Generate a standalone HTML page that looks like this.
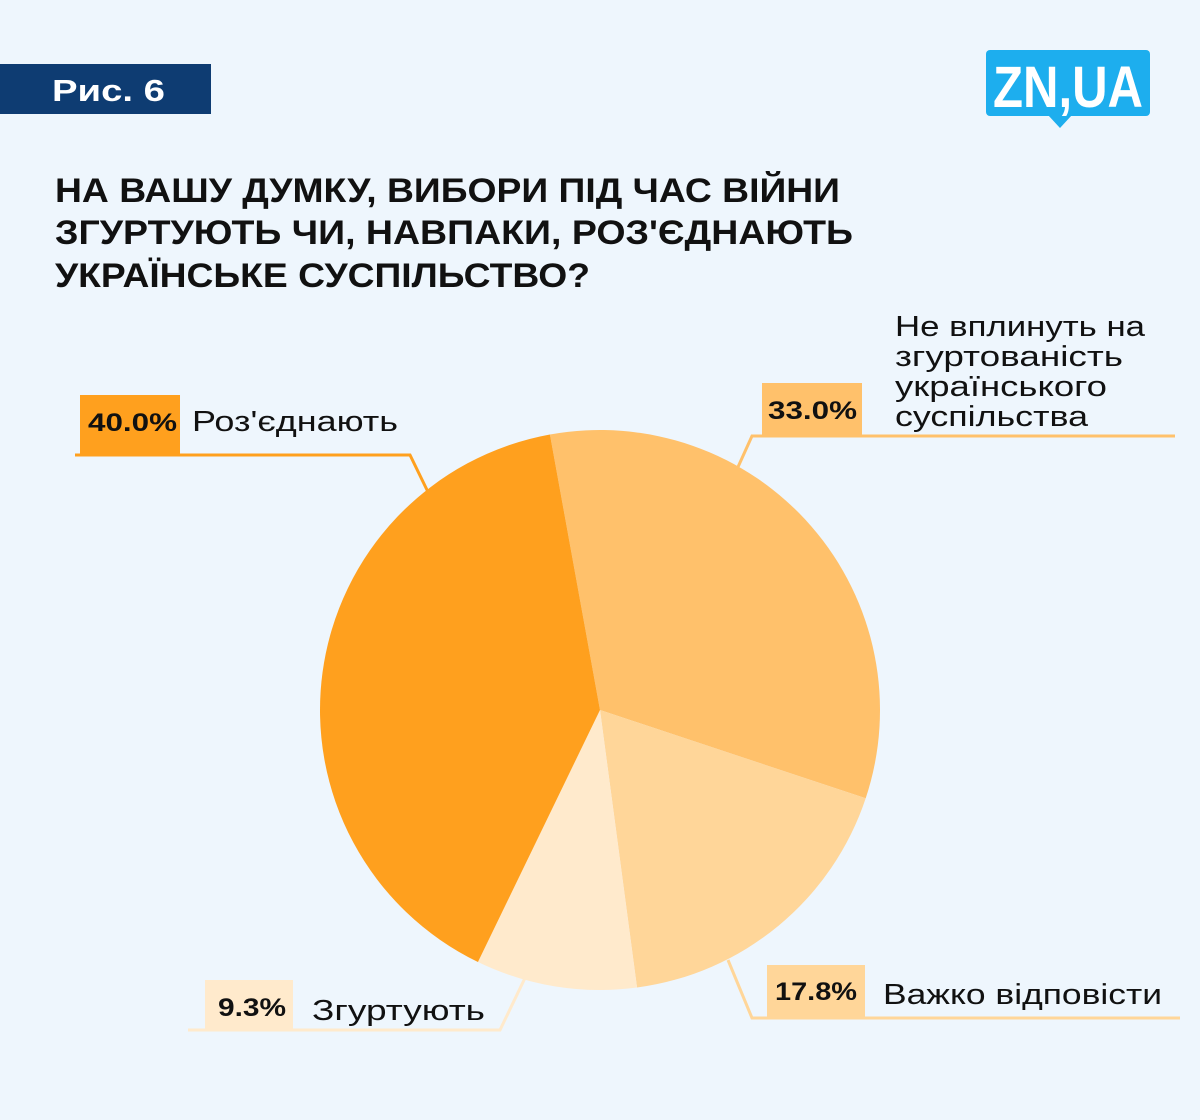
<!DOCTYPE html>
<html><head><meta charset="utf-8"><style>
body{margin:0;background:#EEF6FD;}
svg{display:block;font-family:"Liberation Sans",sans-serif;}
</style></head><body>
<svg width="1200" height="1120" viewBox="0 0 1200 1120">
<rect x="0" y="0" width="1200" height="1120" fill="#EEF6FD"/>
<rect x="0" y="64" width="211" height="50" fill="#0E3C72"/>
<text x="52" y="101" font-size="31" font-weight="bold" fill="#fff" textLength="113" lengthAdjust="spacingAndGlyphs">Рис. 6</text>
<g>
<rect x="986" y="50" width="164" height="66" rx="4" fill="#1DAEEE"/>
<polygon points="1048,115 1072,115 1060,128" fill="#1DAEEE"/>
<text x="1068" y="107" font-size="58" font-weight="bold" fill="#fff" text-anchor="middle" textLength="150" lengthAdjust="spacingAndGlyphs">ZN,UA</text>
</g>
<g font-size="34" font-weight="bold" fill="#111">
<text x="55" y="202" textLength="785" lengthAdjust="spacingAndGlyphs">НА ВАШУ ДУМКУ, ВИБОРИ ПІД ЧАС ВІЙНИ</text>
<text x="55" y="244" textLength="798" lengthAdjust="spacingAndGlyphs">ЗГУРТУЮТЬ ЧИ, НАВПАКИ, РОЗ'ЄДНАЮТЬ</text>
<text x="55" y="287" textLength="535" lengthAdjust="spacingAndGlyphs">УКРАЇНСЬКЕ СУСПІЛЬСТВО?</text>
</g>
<g id="pie"></g>
<g>
<g>
<rect x="80" y="395" width="100" height="60" fill="#FFA01E"/>
<text x="88" y="431" font-size="25" font-weight="bold" fill="#111" textLength="89" lengthAdjust="spacingAndGlyphs">40.0%</text>
<text x="192" y="431" font-size="29" fill="#111" textLength="206" lengthAdjust="spacingAndGlyphs">Роз'єднають</text>
<polyline points="75,455 410,455 428,492" fill="none" stroke="#FFA01E" stroke-width="3"/>
</g>
<g>
<rect x="762" y="383" width="100" height="52" fill="#FFC16B"/>
<text x="768" y="419" font-size="25" font-weight="bold" fill="#111" textLength="89" lengthAdjust="spacingAndGlyphs">33.0%</text>
<g font-size="29" fill="#111">
<text x="895" y="336" textLength="250" lengthAdjust="spacingAndGlyphs">Не вплинуть на</text>
<text x="895" y="366" textLength="228" lengthAdjust="spacingAndGlyphs">згуртованість</text>
<text x="895" y="396" textLength="212" lengthAdjust="spacingAndGlyphs">українського</text>
<text x="895" y="426" textLength="193" lengthAdjust="spacingAndGlyphs">суспільства</text>
</g>
<polyline points="1175,436 752,436 738,467" fill="none" stroke="#FFC16B" stroke-width="3"/>
</g>
<g>
<rect x="767" y="965" width="98" height="52" fill="#FFD699"/>
<text x="775" y="1000" font-size="25" font-weight="bold" fill="#111" textLength="82" lengthAdjust="spacingAndGlyphs">17.8%</text>
<text x="883" y="1004" font-size="29" fill="#111" textLength="279" lengthAdjust="spacingAndGlyphs">Важко відповісти</text>
<polyline points="1180,1018 752,1018 728,960" fill="none" stroke="#FFD699" stroke-width="3"/>
</g>
<g>
<rect x="205" y="980" width="88" height="50" fill="#FFEACC"/>
<text x="218" y="1016" font-size="25" font-weight="bold" fill="#111" textLength="68" lengthAdjust="spacingAndGlyphs">9.3%</text>
<text x="312" y="1020" font-size="29" fill="#111" textLength="173" lengthAdjust="spacingAndGlyphs">Згуртують</text>
<polyline points="188,1030 500,1030 525,978" fill="none" stroke="#FFEACC" stroke-width="3"/>
</g>
</g>
</svg>
<script>
const categories = ["Не вплинуть", "Важко відповісти", "Згуртують", "Роз'єднають"];
const values = [33.0, 17.8, 9.3, 40.0];
const colors = ["#FFC16B", "#FFD699", "#FFEACC", "#FFA01E"];
const names = ["slice-no-effect", "slice-hard-to-say", "slice-unite", "slice-divide"];
const cx = 600, cy = 710, r = 280, startDeg = -10.3;
const g = document.getElementById('pie');
const total = values.reduce((a, b) => a + b, 0);
let a = startDeg;
function pt(d){const t=d*Math.PI/180;return [cx+r*Math.sin(t), cy-r*Math.cos(t)];}
values.forEach((v, i) => {
  const sweep = v / total * 360;
  const p1 = pt(a), p2 = pt(a + sweep);
  const path = document.createElementNS('http://www.w3.org/2000/svg', 'path');
  path.setAttribute('d', `M${cx},${cy} L${p1[0]},${p1[1]} A${r},${r} 0 ${sweep>180?1:0} 1 ${p2[0]},${p2[1]} Z`);
  path.setAttribute('fill', colors[i]);
  
  
  g.appendChild(path);
  a += sweep;
});
</script>
</body></html>
